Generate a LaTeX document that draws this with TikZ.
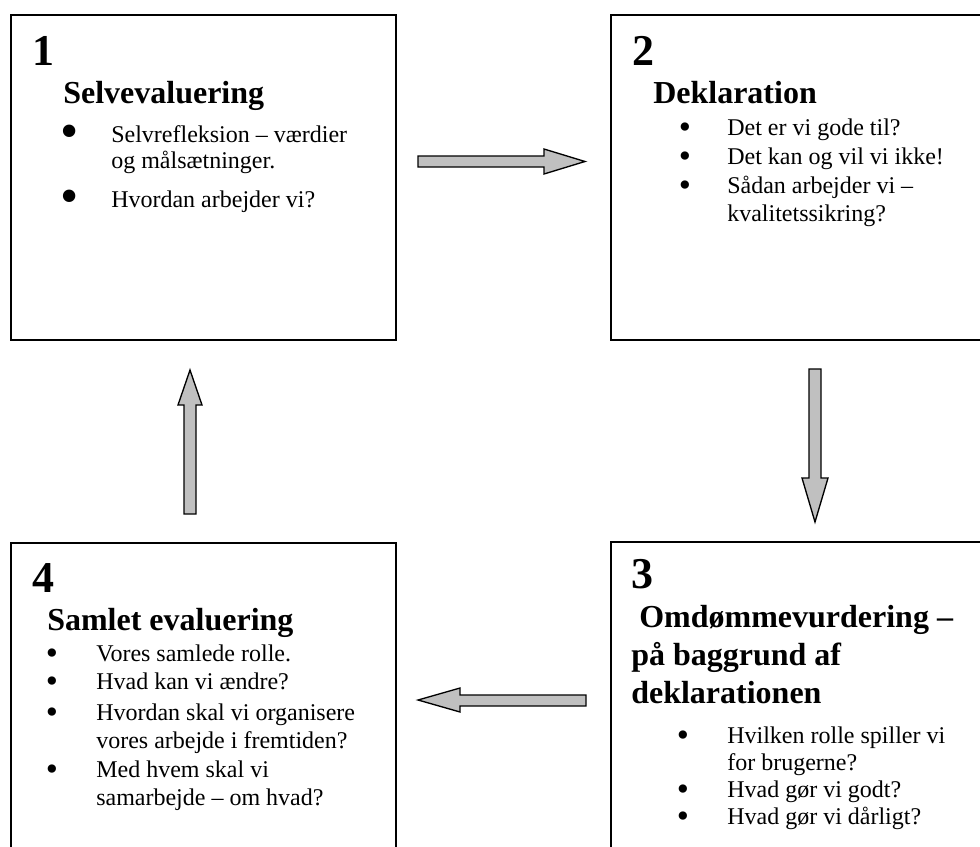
\documentclass[tikz,border=0pt]{standalone}
\usepackage{fontspec}
\setmainfont{Liberation Serif}
\definecolor{arrowgray}{RGB}{192,192,192}

\begin{document}
\begin{tikzpicture}[x=0.75pt,y=-0.75pt,
    box/.style={draw,line width=1.5pt,inner sep=0pt,anchor=north west},
    num/.style={anchor=base west,inner sep=0pt,font=\fontsize{33}{33}\selectfont\bfseries},
    head/.style={anchor=base west,inner sep=0pt,font=\fontsize{24}{24}\selectfont\bfseries},
    txt/.style={anchor=base west,inner sep=0pt,font=\fontsize{18}{18}\selectfont},
    dot/.style={anchor=base,inner sep=0pt,text height=0.4em,text depth=0pt,font=\fontsize{26}{26}\selectfont},
    bigdot/.style={anchor=base,inner sep=0pt,text height=0.4em,text depth=0pt,font=\fontsize{39}{39}\selectfont},
    fatarrow/.style={draw=black,fill=arrowgray,line width=1pt,line join=miter}]
    \useasboundingbox (0,0) rectangle (980,846);

    % the four boxes
    \node[box,minimum width=288.75pt,minimum height=243.75pt] (b1) at (10,14) {};
    \node[box,minimum width=280pt,minimum height=243.75pt] (b2) at (610,14) {};
    \node[box,minimum width=280pt,minimum height=232pt] (b3) at (610,541) {};
    \node[box,minimum width=288.75pt,minimum height=232pt] (b4) at (10,542) {};

    % box 1
    \node[num] (n1) at (32,65) {1};
    \node[head] (h1) at (63,103) {Selvevaluering};
    \foreach \y in {142,207}
        \node[bigdot] (d1-\y) at (70,\y+6) {•};
    \foreach \y/\s in {142/{Selvrefleksion – værdier},168/{og målsætninger.},207/{Hvordan arbejder vi?}}
        \node[txt] (t1-\y) at (111,\y) {\s};

    % box 2
    \node[num] (n2) at (632,65) {2};
    \node[head] (h2) at (653,103) {Deklaration};
    \foreach \y in {135,164,193}
        \node[dot] (d2-\y) at (685,\y+3) {•};
    \foreach \y/\s in {135/{Det er vi gode til?},164/{Det kan og vil vi ikke!},193/{Sådan arbejder vi –},221/{kvalitetssikring?}}
        \node[txt] (t2-\y) at (727,\y) {\s};

    % box 3
    \node[num] (n3) at (631,588) {3};
    \foreach \y/\s in {627/{\ Omdømmevurdering –},665/{på baggrund af},703/{deklarationen}}
        \node[head] (h3-\y) at (631,\y) {\s};
    \foreach \y in {743,797,824}
        \node[dot] (d3-\y) at (683,\y+3) {•};
    \foreach \y/\s in {743/{Hvilken rolle spiller vi},770/{for brugerne?},797/{Hvad gør vi godt?},824/{Hvad gør vi dårligt?}}
        \node[txt] (t3-\y) at (727,\y) {\s};

    % box 4
    \node[num] (n4) at (32,592) {4};
    \node[head] (h4) at (47,630) {Samlet evaluering};
    \foreach \y in {661,689,720,777}
        \node[dot] (d4-\y) at (52,\y+3) {•};
    \foreach \y/\s in {661/{Vores samlede rolle.},689/{Hvad kan vi ændre?},720/{Hvordan skal vi organisere},748/{vores arbejde i fremtiden?},777/{Med hvem skal vi},805/{samarbejde – om hvad?}}
        \node[txt] (t4-\y) at (96,\y) {\s};

    % block arrows between the boxes
    \draw[fatarrow] (418,156) -- (544,156) -- (544,149) -- (585,161.5)
        -- (544,174) -- (544,167) -- (418,167) -- cycle;
    \draw[fatarrow] (809,369) -- (821,369) -- (821,478) -- (828,478)
        -- (815,522) -- (802,478) -- (809,478) -- cycle;
    \draw[fatarrow] (586,695) -- (460,695) -- (460,688) -- (418,700)
        -- (460,712) -- (460,706) -- (586,706) -- cycle;
    \draw[fatarrow] (184,514) -- (184,405) -- (178,405) -- (190,370)
        -- (202,405) -- (196,405) -- (196,514) -- cycle;
\end{tikzpicture}
\end{document}
